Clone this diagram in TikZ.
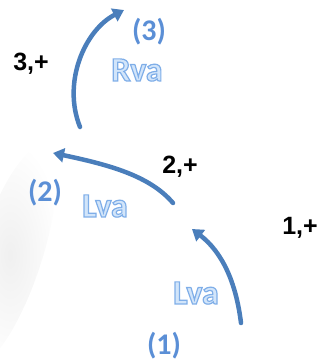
\documentclass[tikz,border=0pt]{standalone}
\usepackage{fontspec}
\setmainfont{Liberation Sans}
\newfontfamily\calib{Carlito}
\usetikzlibrary{arrows.meta}
\definecolor{arrowblue}{HTML}{4A7EBB}
\definecolor{numblue}{HTML}{5B8FD6}
\definecolor{fillblue}{HTML}{D2E5FA}
\tikzset{
  arr/.style={draw=arrowblue, line width=4.5pt, line cap=round, -{Triangle[length=11pt,width=14pt]}},
  num/.style={font=\calib\bfseries\fontsize{30}{32}\selectfont, text=numblue, inner sep=0pt},
  va/.style={font=\calib\bfseries\fontsize{34}{36}\selectfont, inner sep=0pt},
  lab/.style={font=\bfseries\fontsize{25}{27}\selectfont, text=black, inner sep=0pt}
}
\newcommand{\outl}[1]{\textcolor{fillblue}{\special{pdf:code 2 Tr 1.2 w 0.498 0.682 0.910 RG}#1\special{pdf:code 0 Tr}}}
\begin{document}
\begin{tikzpicture}[x=1pt,y=-1pt]
\useasboundingbox (0,0) rectangle (321,362);
% faint shadow at left
\shade[inner color=black!6, outer color=white, rotate around={-18:(10,255)}] (10,255) ellipse (32 and 115);
% coordinates
\coordinate (s1) at (241,323);
\coordinate (e1) at (192,229);
\coordinate (s2) at (173,203);
\coordinate (e2) at (53,153);
\coordinate (s3) at (80,127);
\coordinate (e3) at (124,10);
% arrows
\draw[arr] (s1) .. controls (236,282) and (222,252) .. (e1);
\draw[arr] (s2) .. controls (150,176) and (110,165) .. (e2);
\draw[arr] (s3) .. controls (62,82) and (85,30) .. (e3);
% labels
\node[num] (n3) at (149,32) {(3)};
\node[va] (rva) at (137,70) {\outl{Rva}};
\node[lab] (l3) at (31,64) {3,+};
\node[lab] (l2) at (180,167) {2,+};
\node[num] (n2) at (45,193) {(2)};
\node[va] (lva2) at (105,206) {\outl{Lva}};
\node[lab] (l1) at (300,228) {1,+};
\node[va] (lva1) at (196,293) {\outl{Lva}};
\node[num] (n1) at (164,346) {(1)};
\end{tikzpicture}
\end{document}
